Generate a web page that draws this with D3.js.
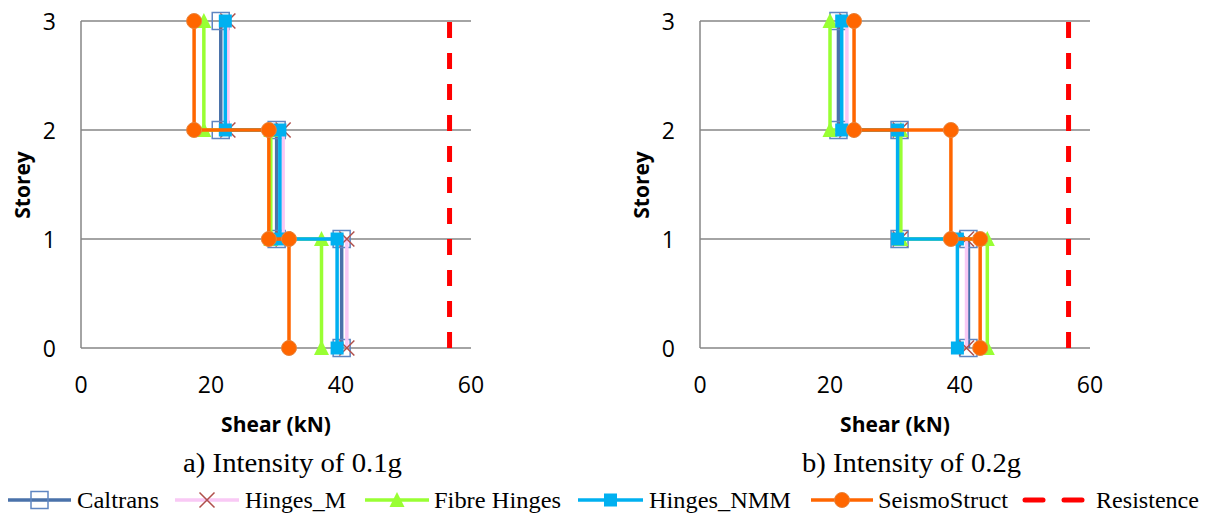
<!DOCTYPE html>
<html><head><meta charset="utf-8">
<script src="https://cdn.jsdelivr.net/npm/d3@7"></script>
<style>body{margin:0;background:#fff}svg{display:block}</style>
</head><body>
<svg id="c" width="1212" height="515"></svg>
<script>
const storeys = [0, 1, 2, 3];
const xTicks = [0, 20, 40, 60];
const seriesNames = ["Caltrans", "Hinges_M", "Fibre Hinges", "Hinges_NMM", "SeismoStruct"];
// storey shear for storey 1, 2, 3
const caltrans01 = [40.1, 30.1, 21.5];
const hingesM01 = [40.9, 31.1, 22.6];
const fibre01 = [37.0, 29.2, 18.9];
const nmm01 = [39.4, 30.6, 22.2];
const seismo01 = [32.0, 28.9, 17.4];
const caltrans02 = [41.3, 30.7, 21.3];
const hingesM02 = [41.0, 30.8, 22.6];
const fibre02 = [44.2, 30.9, 20.0];
const nmm02 = [39.6, 30.4, 21.8];
const seismo02 = [43.1, 38.6, 23.7];
const resistance = 56.7;
const legendNames = ["Caltrans", "Hinges_M", "Fibre Hinges", "Hinges_NMM", "SeismoStruct", "Resistence"];
const captions = ["a) Intensity of 0.1g", "b) Intensity of 0.2g"];

const styles = {
  "Caltrans": {line: "#4A72AA", w: 3.5, marker: "box"},
  "Hinges_M": {line: "#F9C9F5", w: 3.5, marker: "x"},
  "Fibre Hinges": {line: "#99FF33", w: 3.5, marker: "tri"},
  "Hinges_NMM": {line: "#00B0F0", w: 3.5, marker: "sq"},
  "SeismoStruct": {line: "#FF6600", w: 3.5, marker: "circ"}
};
// legend layout: line start/end, text start, text width
const legendLayout = [
  {x1: 8, x2: 71, tx: 77, tw: 82},
  {x1: 175, x2: 239, tx: 245, tw: 101},
  {x1: 365, x2: 429, tx: 434, tw: 127},
  {x1: 578, x2: 643, tx: 649, tw: 142},
  {x1: 811, x2: 873, tx: 878, tw: 130},
  {x1: 1025, x2: 1082, tx: 1096, tw: 103}
];

const svg = d3.select("#c");
const sansFont = "'Open Sans', Lato, sans-serif";
const serifFont = "'Liberation Serif', 'DejaVu Serif', serif";

function drawMarker(g, type, x, y) {
  if (type === "box") {
    g.append("rect").attr("x", x - 8.5).attr("y", y - 8.5).attr("width", 17).attr("height", 17)
      .attr("fill", "none").attr("stroke", "#5F86C2").attr("stroke-width", 1.5);
  } else if (type === "x") {
    const s = 7.5;
    g.append("path").attr("d", `M${x-s},${y-s}L${x+s},${y+s}M${x-s},${y+s}L${x+s},${y-s}`)
      .attr("stroke", "#B0504B").attr("stroke-width", 1.5);
  } else if (type === "tri") {
    g.append("path").attr("d", `M${x},${y-8}L${x+7.5},${y+7}L${x-7.5},${y+7}Z`).attr("fill", "#99FF33");
  } else if (type === "sq") {
    g.append("rect").attr("x", x - 6.5).attr("y", y - 6.5).attr("width", 13).attr("height", 13).attr("fill", "#00B0F0");
  } else if (type === "circ") {
    g.append("circle").attr("cx", x).attr("cy", y).attr("r", 7.5).attr("fill", "#FF6600")
      .attr("stroke", "#E8833A").attr("stroke-width", 1);
  }
}

function panel(x0, data, caption) {
  const x = d3.scaleLinear().domain([0, 60]).range([x0, x0 + 390]);
  const y = d3.scaleLinear().domain([0, 3]).range([348, 21]);
  const g = svg.append("g");
  g.selectAll(".grid").data(storeys).enter().append("line")
    .attr("x1", x(0)).attr("x2", x(60)).attr("y1", d => y(d)).attr("y2", d => y(d))
    .attr("stroke", "#868686").attr("stroke-width", 1.5);
  g.append("line").attr("x1", x(0)).attr("x2", x(0)).attr("y1", y(0)).attr("y2", y(3))
    .attr("stroke", "#868686").attr("stroke-width", 1.5);
  g.selectAll(".yt").data(storeys).enter().append("text")
    .attr("x", x(0) - 25).attr("y", d => y(d) + 8.5).attr("text-anchor", "end")
    .attr("font-family", sansFont).attr("font-size", 23).attr("fill", "#000").text(d => d);
  g.selectAll(".xt").data(xTicks).enter().append("text")
    .attr("x", d => x(d)).attr("y", 393).attr("text-anchor", "middle")
    .attr("font-family", sansFont).attr("font-size", 23).attr("fill", "#000").text(d => d);
  g.append("text").attr("transform", `translate(${x0 - 51},185) rotate(-90)`).attr("text-anchor", "middle")
    .attr("font-family", sansFont).attr("font-size", 21).attr("font-weight", "bold").text("Storey");
  g.append("text").attr("x", x0 + 195).attr("y", 432).attr("text-anchor", "middle")
    .attr("font-family", sansFont).attr("font-size", 21).attr("font-weight", "bold").text("Shear (kN)");
  g.append("text").attr("x", x0 + 102).attr("y", 472)
    .attr("font-family", serifFont).attr("font-size", 27.5)
    .attr("textLength", 219).attr("lengthAdjust", "spacingAndGlyphs").text(caption);
  g.append("line").attr("x1", x(resistance)).attr("x2", x(resistance)).attr("y1", y(0)).attr("y2", y(3))
    .attr("stroke", "#FF0000").attr("stroke-width", 5).attr("stroke-dasharray", "16,15");
  const line = d3.line().x(d => x(d[0])).y(d => y(d[1]));
  seriesNames.forEach((name, i) => {
    const v = data[i];
    const pts = [[v[0], 0], [v[0], 1], [v[1], 1], [v[1], 2], [v[2], 2], [v[2], 3]];
    const st = styles[name];
    g.append("path").attr("d", line(pts)).attr("fill", "none").attr("stroke", st.line)
      .attr("stroke-width", st.w).attr("stroke-linejoin", "round");
    pts.forEach(p => drawMarker(g, st.marker, x(p[0]), y(p[1])));
  });
}

panel(81, [caltrans01, hingesM01, fibre01, nmm01, seismo01], captions[0]);
panel(700, [caltrans02, hingesM02, fibre02, nmm02, seismo02], captions[1]);

const lg = svg.append("g");
const ly = 500;
legendNames.forEach((name, i) => {
  const it = legendLayout[i];
  if (name === "Resistence") {
    lg.append("line").attr("x1", it.x1).attr("x2", it.x1 + 18).attr("y1", ly).attr("y2", ly)
      .attr("stroke", "#FF0000").attr("stroke-width", 5).attr("stroke-linecap", "round");
    lg.append("line").attr("x1", it.x2 - 18).attr("x2", it.x2).attr("y1", ly).attr("y2", ly)
      .attr("stroke", "#FF0000").attr("stroke-width", 5).attr("stroke-linecap", "round");
  } else {
    const st = styles[name];
    lg.append("line").attr("x1", it.x1).attr("x2", it.x2).attr("y1", ly).attr("y2", ly)
      .attr("stroke", st.line).attr("stroke-width", 3.5);
    drawMarker(lg, st.marker, (it.x1 + it.x2) / 2, ly);
  }
  lg.append("text").attr("x", it.tx).attr("y", ly + 8).attr("font-family", serifFont)
    .attr("font-size", 24).attr("fill", "#000")
    .attr("textLength", it.tw).attr("lengthAdjust", "spacingAndGlyphs").text(name);
});
</script>
</body></html>
